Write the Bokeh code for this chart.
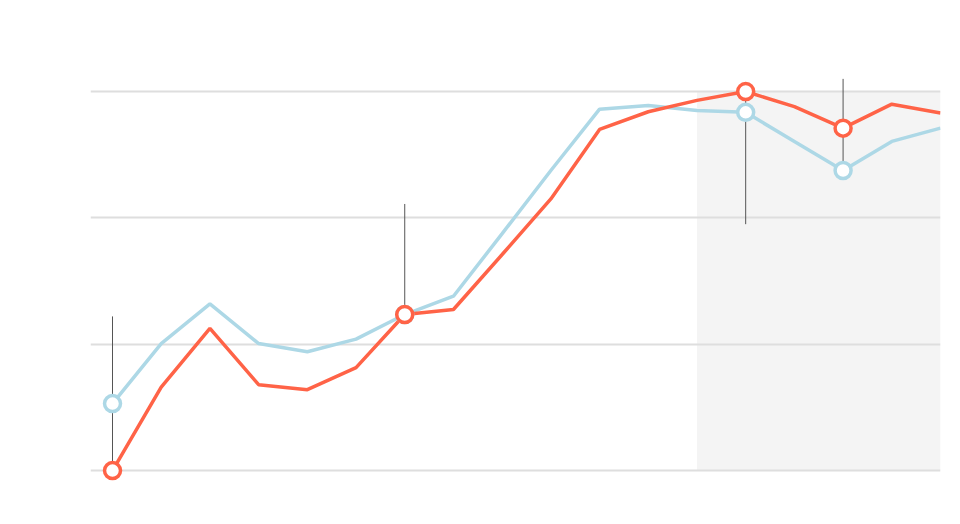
from bokeh.plotting import figure
from bokeh.models import Range1d, FixedTicker, Grid
from bokeh.embed import file_html
from bokeh.resources import INLINE

# data
x_idx = list(range(18))
blue_vals = [5.3, 10.05, 13.2, 10.05, 9.4, 10.4, 12.35, 13.8, 18.75, 23.75,
             28.6, 28.9, 28.5, 28.35, 26.05, 23.75, 26.05, 27.1]
red_vals = [0.0, 6.6, 11.25, 6.8, 6.4, 8.15, 12.35, 12.75, 17.1, 21.5,
            27.0, 28.4, 29.3, 30.0, 28.8, 27.1, 29.0, 28.3]
marker_idx = [0, 6, 13, 15]
range_x = [0, 6, 13, 15]
range_lo = [0.0, 12.35, 19.5, 23.75]
range_hi = [12.2, 21.1, 30.0, 31.0]
shade_x0, shade_x1 = 12, 17
shade_y0, shade_y1 = 0, 30
grid_ticks = [0, 10, 20, 30]

BLUE = "#add8e6"
RED = "#ff6347"

p = figure(width=944, height=508, output_backend="svg", toolbar_location=None,
           x_axis_type=None, y_axis_type=None,
           x_range=Range1d(-0.452, 17), y_range=Range1d(-2.37, 34.83),
           min_border_left=90, min_border_right=4, min_border_top=30, min_border_bottom=8)
p.outline_line_color = None
p.background_fill_color = "white"
p.border_fill_color = "white"

shade = p.quad(left=[shade_x0], right=[shade_x1], bottom=[shade_y0], top=[shade_y1],
               fill_color="#f4f4f4", line_color=None)
shade.level = "image"

g = Grid(dimension=1, ticker=FixedTicker(ticks=grid_ticks),
         grid_line_color="#dedede", grid_line_width=2)
p.add_layout(g)

p.segment(x0=range_x, y0=range_lo, x1=range_x, y1=range_hi, line_color="#555555", line_width=1)

p.line(x_idx, blue_vals, line_color=BLUE, line_width=3.5)
p.line(x_idx, red_vals, line_color=RED, line_width=3.5)

p.scatter([x_idx[i] for i in marker_idx], [blue_vals[i] for i in marker_idx],
          size=16, fill_color="white", line_color=BLUE, line_width=3.5)
p.scatter([x_idx[i] for i in marker_idx], [red_vals[i] for i in marker_idx],
          size=16, fill_color="white", line_color=RED, line_width=3.5)

open("out.html", "w").write(file_html(p, INLINE))
